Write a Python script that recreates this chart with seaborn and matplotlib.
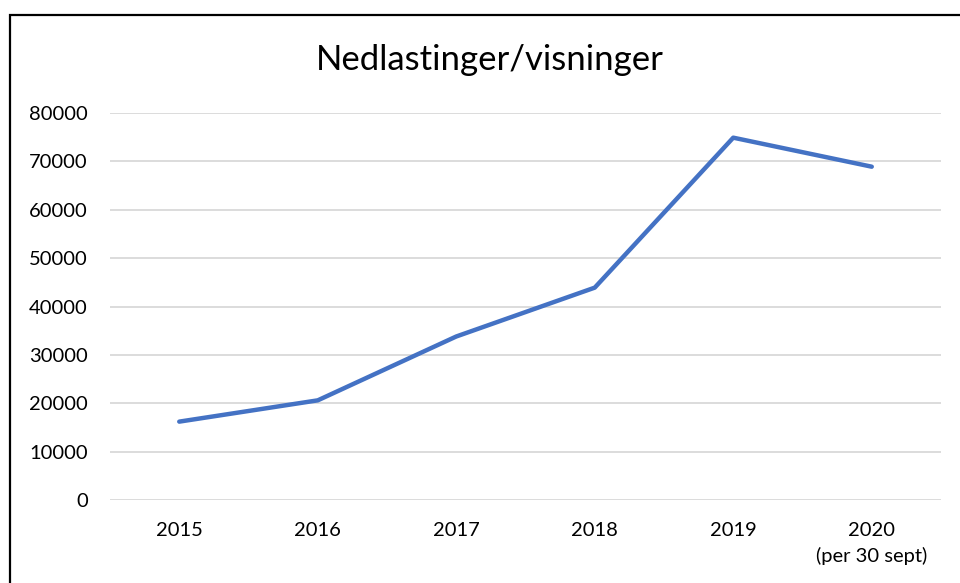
import matplotlib
matplotlib.use("Agg")
import matplotlib.pyplot as plt
import seaborn as sns
import pandas as pd
from matplotlib.patches import Rectangle

years = ["2015", "2016", "2017", "2018", "2019", "2020\n(per 30 sept)"]
values = [16200, 20600, 33800, 43900, 74900, 68900]
yticks = [0, 10000, 20000, 30000, 40000, 50000, 60000, 70000, 80000]
title = "Nedlastinger/visninger"

sns.set_theme(style="white")
plt.rcParams["font.family"] = ["Lato", "DejaVu Sans"]

W, H = 960, 583
fig = plt.figure(figsize=(W / 100, H / 100), dpi=100)
ax = fig.add_axes([110 / W, (H - 500) / H, (941 - 110) / W, (500 - 113) / H])

df = pd.DataFrame({"year": years, "value": values})
df["pos"] = range(len(years))
sns.lineplot(data=df, x="pos", y="value", ax=ax, color="#4472C4", linewidth=3.2)

ax.set_xlim(-0.5, len(years) - 0.5)
ax.set_ylim(0, 80000)
ax.set_yticks(yticks)
ax.set_yticklabels([str(v) for v in yticks], fontsize=14.5, color="#000000")
ax.set_xticks(range(len(years)))
ax.set_xticklabels(years, fontsize=14.5, color="#000000", linespacing=1.5, va="top")
ax.tick_params(axis="both", length=0)
ax.tick_params(axis="y", pad=16)
ax.tick_params(axis="x", pad=16)
ax.set_xlabel("")
ax.set_ylabel("")
ax.grid(axis="y", color="#D9D9D9", linewidth=1.3)
ax.set_axisbelow(True)
for s in ax.spines.values():
    s.set_visible(False)

fig.text(490 / W, 1 - 60 / H, title, ha="center", va="center", fontsize=25, color="#000000")

fig.add_artist(Rectangle((10 / W, -0.1), 1.2, (H - 15) / H + 0.1, transform=fig.transFigure,
                         fill=False, edgecolor="black", linewidth=1.6, clip_on=False))

fig.savefig("out.png", dpi=100)
